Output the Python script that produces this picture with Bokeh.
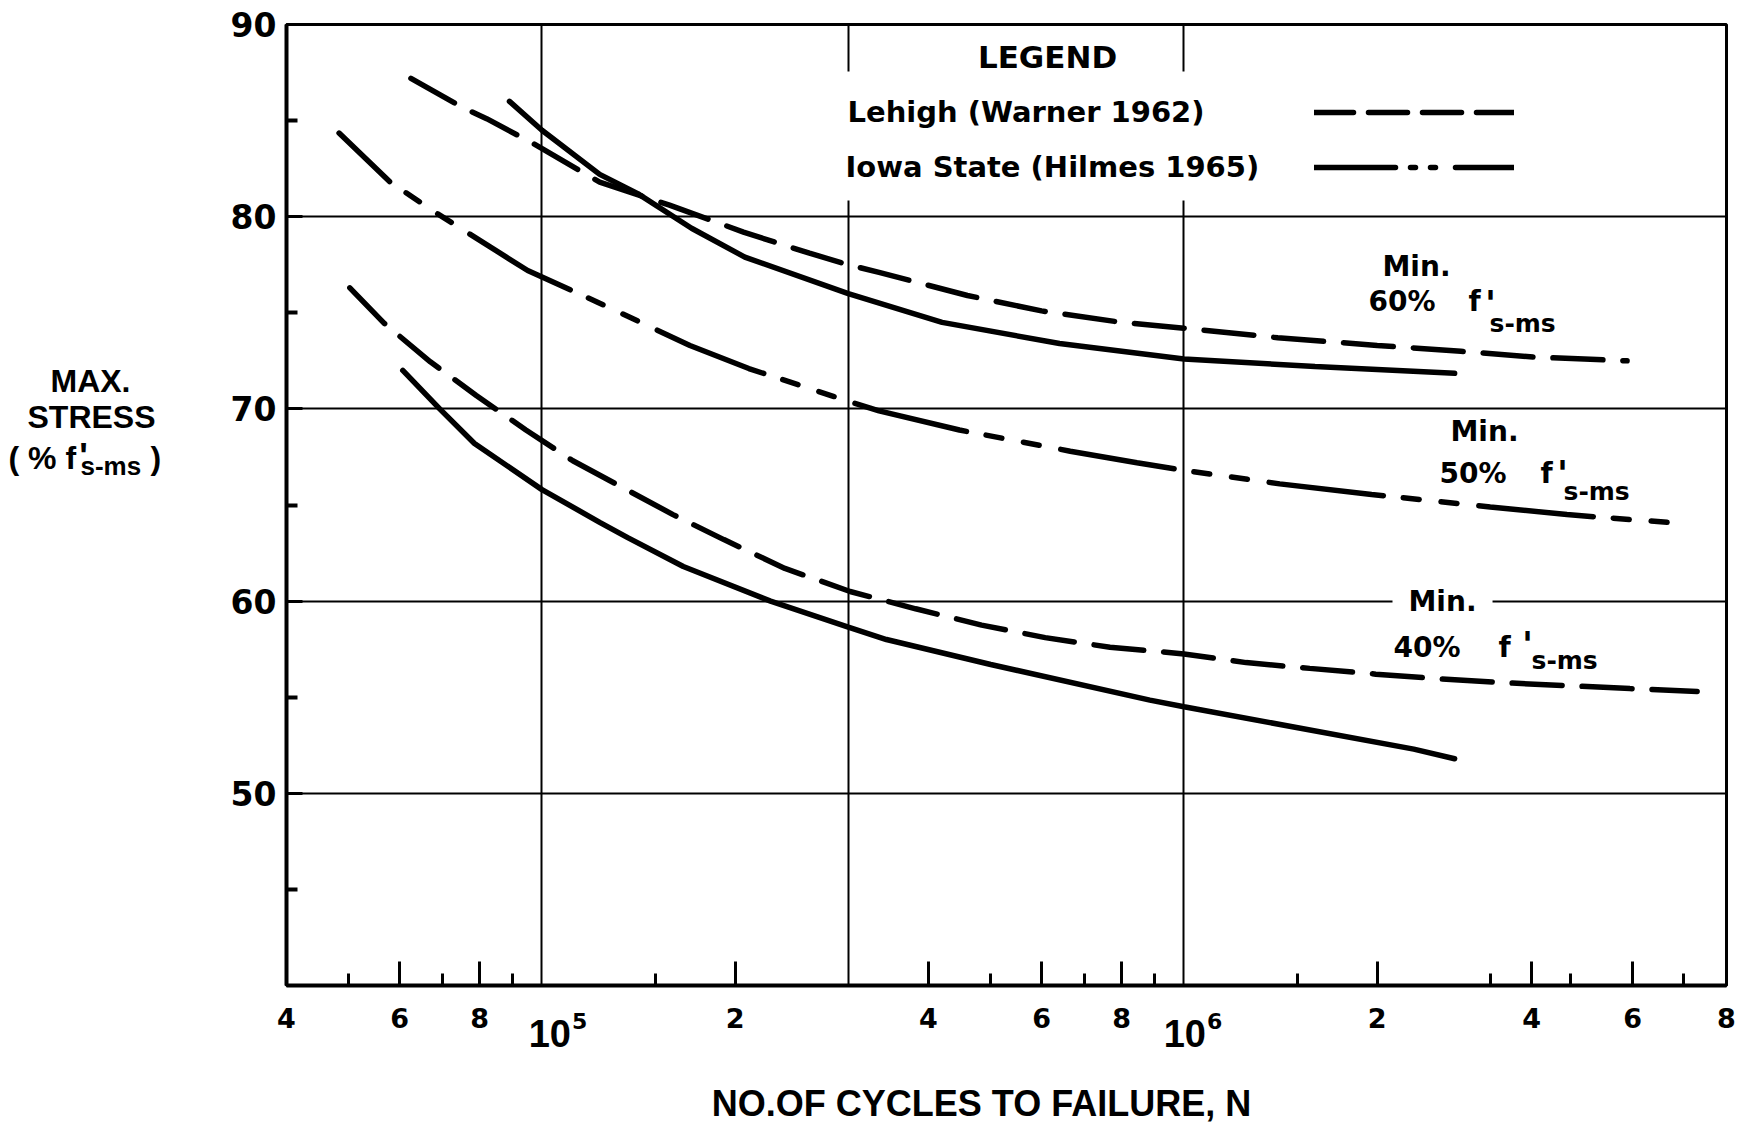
import math
from bokeh.plotting import figure
from bokeh.layouts import column, row
from bokeh.models import Range1d, FixedTicker, Label, BoxAnnotation, Legend, LegendItem
from bokeh.embed import file_html
from bokeh.resources import INLINE

# ---------------- data ----------------
# Lehigh (Warner 1962), min. 60 %  (dashed)
lehigh60_n = [6.25e4, 7.5e4, 8.2e4, 9.7e4, 1.23e5, 1.58e5, 2.06e5, 2.61e5, 3.0e5, 3.35e5,
              4.6e5, 6.0e5, 8.0e5, 1.0e6, 1.4e6, 2.0e6, 2.7e6, 3.5e6, 4.9e6]
lehigh60_s = [87.2, 85.7, 85.1, 83.8, 81.8, 80.6, 79.2, 78.1, 77.5, 77.1,
              75.9, 75.1, 74.5, 74.2, 73.7, 73.3, 73.0, 72.7, 72.5]
# Iowa State, min. 60 %  (solid)
iowa60_n = [8.9e4, 1.0e5, 1.23e5, 1.41e5, 1.71e5, 2.07e5, 3.0e5, 4.2e5, 6.4e5, 1.0e6, 1.6e6, 2.64e6]
iowa60_s = [86.0, 84.5, 82.2, 81.2, 79.4, 77.9, 76.0, 74.5, 73.4, 72.6, 72.2, 71.85]
# Iowa State (Hilmes 1965), min. 50 %  (dash-dot)
iowa50_n = [4.83e4, 5.8e4, 6.84e4, 9.5e4, 1.23e5, 1.7e5, 2.1e5, 3.0e5, 3.35e5, 4.47e5,
            6.65e5, 8.45e5, 1.0e6, 1.41e6, 1.96e6, 3.0e6, 3.95e6, 5.9e6]
iowa50_s = [84.35, 81.8, 80.2, 77.2, 75.5, 73.3, 72.1, 70.4, 69.9, 68.9,
            67.8, 67.2, 66.8, 66.1, 65.55, 64.9, 64.5, 64.05]
# Lehigh, min. 40 %  (dashed)
lehigh40_n = [5.02e4, 5.68e4, 6.7e4, 7.9e4, 9.44e4, 1.117e5, 1.337e5, 1.6e5, 1.92e5, 2.39e5,
              3.02e5, 3.82e5, 4.84e5, 6.08e5, 7.67e5, 1.0e6, 1.25e6, 1.57e6, 1.99e6, 2.51e6,
              3.17e6, 4.95e6, 6.3e6]
lehigh40_s = [76.3, 74.45, 72.45, 70.7, 68.9, 67.3, 65.9, 64.5, 63.2, 61.7,
              60.5, 59.6, 58.75, 58.1, 57.6, 57.25, 56.8, 56.5, 56.2, 55.95,
              55.75, 55.45, 55.3]
# Iowa State, min. 40 %  (solid)
iowa40_n = [6.07e4, 6.93e4, 7.85e4, 1.0e5, 1.23e5, 1.36e5, 1.66e5, 2.27e5, 3.0e5, 3.44e5,
            5.0e5, 8.85e5, 1.0e6, 2.28e6, 2.64e6]
iowa40_s = [72.0, 70.0, 68.2, 65.8, 64.1, 63.3, 61.8, 60.0, 58.65, 58.0,
            56.7, 54.85, 54.5, 52.3, 51.8]

# axis ticks as printed on the original graph paper
x_major = [4e4, 6e4, 8e4, 2e5, 4e5, 6e5, 8e5, 2e6, 3.48e6, 5e6, 7e6]
x_major_labels = ["4", "6", "8", "2", "4", "6", "8", "2", "4", "6", "8"]
x_minor = [5e4, 7e4, 9e4, 1.5e5, 5e5, 7e5, 9e5, 1.5e6, 3e6, 4e6, 6e6]
x_grid = [1e5, 3e5, 1e6]
x_decades = [1e5, 1e6]
x_decade_exp = ["5", "6"]
y_major = [50, 60, 70, 80, 90]
y_minor = [45, 55, 65, 75, 85]
y_grid = [50, 60, 70, 80]

X_LO, X_HI = 4e4, 7e6
Y_LO, Y_HI = 40, 90

# ---------------- page geometry ----------------
W, H = 1746, 1125
WL = 180            # width of the left title strip
HT = 990            # height of the top row
FL, FR, FT, FB = 286, 1726, 24, 985   # plot frame edges on the page

DJ = "DejaVu Sans"
LS = "Liberation Sans"


def mk_label(fig, text, sx, sy, size, font=DJ, align="left", **kw):
    fig.add_layout(Label(x=sx, y=sy, x_units="screen", y_units="screen", text=text,
                         text_font=font, text_font_size=f"{size}px", text_font_style="bold",
                         text_align=align, text_baseline="middle", text_color="black", **kw))


# ---------------- main plot ----------------
p = figure(width=W - WL, height=HT, x_axis_type="log",
           x_range=Range1d(X_LO, X_HI), y_range=Range1d(Y_LO, Y_HI),
           output_backend="svg", toolbar_location=None,
           min_border_left=FL - WL, min_border_right=W - FR, min_border_top=FT,
           min_border_bottom=HT - FB)
p.background_fill_color = "white"
p.border_fill_color = "white"
p.outline_line_color = "black"
p.outline_line_width = 3

p.xgrid.ticker = FixedTicker(ticks=x_grid)
p.ygrid.ticker = FixedTicker(ticks=y_grid)
for g in (p.xgrid, p.ygrid):
    g.grid_line_color = "black"
    g.grid_line_width = 2
    g.grid_line_alpha = 1

xa = p.xaxis[0]
xa.ticker = FixedTicker(ticks=x_major, minor_ticks=x_minor)
xa.major_label_overrides = {t: "" for t in x_major}
xa.major_label_text_font_size = "0px"
xa.major_label_standoff = 0
xa.major_tick_in = 24
xa.major_tick_out = 0
xa.minor_tick_in = 12
xa.minor_tick_out = 0
xa.major_tick_line_width = 3
xa.minor_tick_line_width = 3
xa.axis_line_width = 4

ya = p.yaxis[0]
ya.ticker = FixedTicker(ticks=y_major, minor_ticks=y_minor)
ya.major_tick_in = 16
ya.major_tick_out = 0
ya.minor_tick_in = 11
ya.minor_tick_out = 0
ya.major_tick_line_width = 3
ya.minor_tick_line_width = 4
ya.axis_line_width = 4
ya.major_label_standoff = 10
ya.major_label_text_font = DJ
ya.major_label_text_font_style = "bold"
ya.major_label_text_font_size = "33px"
ya.major_label_text_color = "black"

LW = 5.5
p.line(lehigh60_n, lehigh60_s, line_width=LW, line_color="black", line_dash="50 20", line_cap="round")
p.line(iowa60_n, iowa60_s, line_width=LW, line_color="black", line_cap="round")
p.line(iowa50_n, iowa50_s, line_width=LW, line_color="black",
       line_dash="115 20 16 22 16 22", line_dash_offset=45, line_cap="round")
p.line(lehigh40_n, lehigh40_s, line_width=LW, line_color="black", line_dash="50 20", line_cap="round")
p.line(iowa40_n, iowa40_s, line_width=LW, line_color="black", line_cap="round")

# white legend area (breaks the grid lines like the original)
p.add_layout(BoxAnnotation(left=835 - FL, right=1700 - FL, top=FB - 71, bottom=FB - 200,
                           left_units="screen", right_units="screen",
                           top_units="screen", bottom_units="screen",
                           fill_color="white", fill_alpha=1, line_alpha=0))

# legend line samples (renderers without visible data)
nan = float("nan")
leg_l = p.line([nan], [nan], line_width=LW, line_color="black", line_dash="39 15", line_cap="round")
leg_i = p.line([nan], [nan], line_width=LW, line_color="black",
               line_dash="81 15 5 15 5 20", line_cap="round")
legend = Legend(items=[LegendItem(label=" ", renderers=[leg_l]),
                       LegendItem(label=" ", renderers=[leg_i])],
                location=(1314 - FL, FB - 177), glyph_width=200, glyph_height=20,
                label_height=20, label_width=1, spacing=35, padding=0, margin=0,
                background_fill_alpha=0, border_line_alpha=0, label_text_font_size="10px")
p.add_layout(legend)


def ptxt(text, X, Y, size, **kw):
    mk_label(p, text, X - FL, FB - Y, size, **kw)


ptxt("LEGEND", 1047, 56, 31, align="center")
ptxt("Lehigh (Warner 1962)", 847, 111, 29)
ptxt("Iowa State (Hilmes 1965)", 845, 166, 29)

for (mx, my, px, py, fx, qx, qy, sx_, sy_, pct, bg) in [
        (1382, 266, 1368, 301, 1468, 1490, 294, 1489, 323, "60%", False),
        (1450, 431, 1439, 473, 1540, 1562, 464, 1563, 491, "50%", False),
        (1408, 601, 1393, 647, 1498, 1527, 635, 1531, 660, "40%", True)]:
    if bg:
        ptxt("Min.", mx - 16, my, 28, background_fill_color="white",
             background_fill_alpha=1, padding=16)
    else:
        ptxt("Min.", mx, my, 28)
    ptxt(pct, px, py, 28)
    ptxt("f", fx, py, 28)
    ptxt("'", qx, qy + 9, 36, align="center")
    ptxt("s-ms", sx_, sy_, 25)

# ---------------- left strip: y-axis title ----------------
p1 = figure(width=WL, height=HT, x_range=Range1d(0, 1), y_range=Range1d(0, 1),
            x_axis_location=None, y_axis_location=None, output_backend="svg",
            toolbar_location=None, min_border=0)
p1.outline_line_color = None
p1.grid.visible = False
p1.background_fill_color = "white"
p1.border_fill_color = "white"


def ltxt(text, X, Y, size, **kw):
    mk_label(p1, text, X, HT - Y, size, font=LS, **kw)


ltxt("MAX.", 90, 385, 32, align="center")
ltxt("STRESS", 91, 421, 32, align="center")
ltxt("( % f", 8, 462, 32)
ltxt("'", 83, 461, 36, align="center")
ltxt("s-ms", 80, 470, 26)
ltxt(")", 150, 462, 32)

# ---------------- bottom strip: x tick labels and x-axis title ----------------
dec_px = (FR - FL) / (math.log10(X_HI) - math.log10(X_LO))
b_lo = 10 ** (math.log10(X_LO) - FL / dec_px)
b_hi = 10 ** (math.log10(X_HI) + (W - FR) / dec_px)
HB = H - HT
p2 = figure(width=W, height=HB, x_axis_type="log", x_range=Range1d(b_lo, b_hi),
            y_range=Range1d(0, 1), x_axis_location=None, y_axis_location=None,
            output_backend="svg", toolbar_location=None, min_border=0)
p2.outline_line_color = None
p2.grid.visible = False
p2.background_fill_color = "white"
p2.border_fill_color = "white"

for t, lbl in zip(x_major, x_major_labels):
    p2.add_layout(Label(x=t, y=H - 1017, x_units="data", y_units="screen", text=lbl,
                        text_font=DJ, text_font_size="27px", text_font_style="bold",
                        text_align="center", text_baseline="middle", text_color="black"))
for d, e, off in zip(x_decades, x_decade_exp, [29, 22]):
    p2.add_layout(Label(x=d, y=H - 1033, x_units="data", y_units="screen", x_offset=off,
                        text="10", text_font=LS, text_font_size="38px", text_font_style="bold",
                        text_align="right", text_baseline="middle", text_color="black"))
    p2.add_layout(Label(x=d, y=H - 1020, x_units="data", y_units="screen", x_offset=off + 1,
                        text=e, text_font=DJ, text_font_size="22px", text_font_style="bold",
                        text_align="left", text_baseline="middle", text_color="black"))

mk_label(p2, "NO.OF CYCLES TO FAILURE, N", 981, H - 1103, 36, font=LS, align="center")

layout = column(row(p1, p), p2)
open("out.html", "w").write(file_html(layout, INLINE))
